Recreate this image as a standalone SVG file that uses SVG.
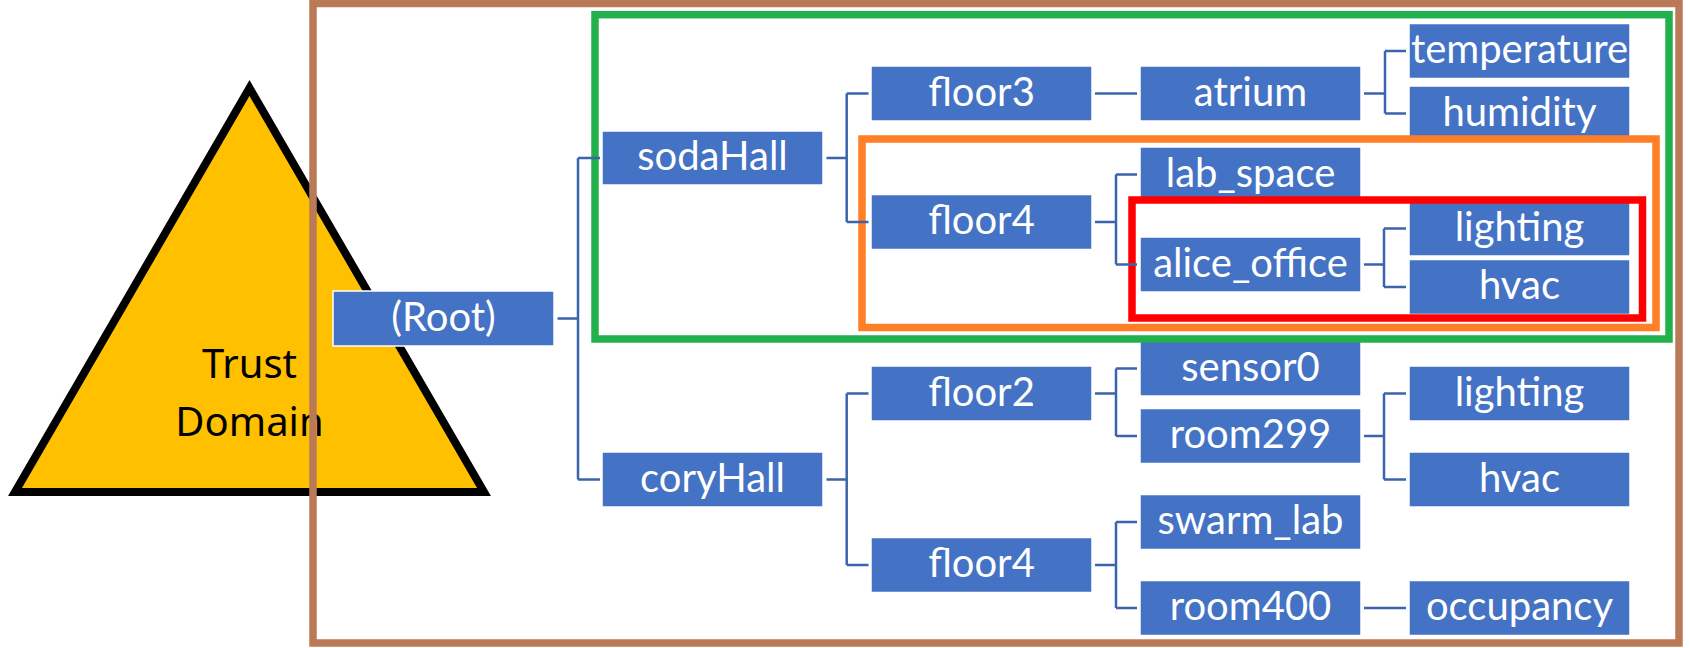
<svg xmlns="http://www.w3.org/2000/svg" width="1690" height="648" viewBox="0 0 1690 648">
  <style>
    .node rect { fill: #4472C4; stroke: #FFFFFF; stroke-width: 1.5; }
    .node text { fill: #FFFFFF; font-family: Lato, "Liberation Sans", sans-serif; font-size: 40px; text-anchor: middle; }
    .zone { fill: none; stroke-width: 7.5; }
    #connectors path { fill: none; stroke: #3B64AD; stroke-width: 2.5; }
  </style>

  <rect x="0" y="0" width="1690" height="648" fill="#FFFFFF"/>

  <!-- trust domain triangle -->
  <g id="trust-domain">
    <polygon points="249.5,88 15,492 484,492" fill="#FFC000" stroke="#000000" stroke-width="8" stroke-linejoin="miter"/>
    <text x="249.5" y="378" font-family="'Noto Sans', 'Open Sans', sans-serif" font-size="40" text-anchor="middle" fill="#000000">Trust</text>
    <text x="249.5" y="436" font-family="'Noto Sans', 'Open Sans', sans-serif" font-size="40" text-anchor="middle" fill="#000000">Domain</text>
  </g>

  <!-- outer namespace frame -->
  <rect class="zone" x="313" y="3.5" width="1366" height="639.5" stroke="#BA7A57"/>

  <!-- tree nodes -->
  <g id="n-root" class="node"><rect x="333" y="291" width="221" height="55"/><text x="443.5" y="330.5">(Root)</text></g>
  <g id="n-sodahall" class="node"><rect x="602" y="131" width="221" height="54"/><text x="712.5" y="170">sodaHall</text></g>
  <g id="n-coryhall" class="node"><rect x="602" y="452" width="221" height="55"/><text x="712.5" y="491.5">coryHall</text></g>
  <g id="n-soda-floor3" class="node"><rect x="871" y="66" width="221" height="55"/><text x="981.5" y="105.5">floor3</text></g>
  <g id="n-soda-floor4" class="node"><rect x="871" y="194.5" width="221" height="55"/><text x="981.5" y="234">floor4</text></g>
  <g id="n-atrium" class="node"><rect x="1140" y="66" width="221" height="55"/><text x="1250.5" y="105.5">atrium</text></g>
  <g id="n-lab-space" class="node"><rect x="1140" y="147" width="221" height="55"/><text x="1250.5" y="186.5">lab_space</text></g>
  <g id="n-alice-office" class="node"><rect x="1140" y="237" width="221" height="55"/><text x="1250.5" y="276.5">alice_office</text></g>
  <g id="n-temperature" class="node"><rect x="1409" y="23.5" width="221" height="55"/><text x="1519.5" y="63">temperature</text></g>
  <g id="n-humidity" class="node"><rect x="1409" y="86" width="221" height="55"/><text x="1519.5" y="125.5">humidity</text></g>
  <g id="n-alice-lighting" class="node"><rect x="1409" y="201" width="221" height="55"/><text x="1519.5" y="240.5">lighting</text></g>
  <g id="n-alice-hvac" class="node"><rect x="1409" y="259.5" width="221" height="55"/><text x="1519.5" y="299">hvac</text></g>
  <g id="n-cory-floor2" class="node"><rect x="871" y="366" width="221" height="55"/><text x="981.5" y="405.5">floor2</text></g>
  <g id="n-cory-floor4" class="node"><rect x="871" y="537.5" width="221" height="55"/><text x="981.5" y="577">floor4</text></g>
  <g id="n-sensor0" class="node"><rect x="1140" y="341" width="221" height="55"/><text x="1250.5" y="380.5">sensor0</text></g>
  <g id="n-room299" class="node"><rect x="1140" y="408.5" width="221" height="55"/><text x="1250.5" y="448">room299</text></g>
  <g id="n-swarm-lab" class="node"><rect x="1140" y="494.5" width="221" height="55"/><text x="1250.5" y="534">swarm_lab</text></g>
  <g id="n-room400" class="node"><rect x="1140" y="580.5" width="221" height="55"/><text x="1250.5" y="620">room400</text></g>
  <g id="n-room299-lighting" class="node"><rect x="1409" y="366" width="221" height="55"/><text x="1519.5" y="405.5">lighting</text></g>
  <g id="n-room299-hvac" class="node"><rect x="1409" y="452" width="221" height="55"/><text x="1519.5" y="491.5">hvac</text></g>
  <g id="n-occupancy" class="node"><rect x="1409" y="580.5" width="221" height="55"/><text x="1519.5" y="620">occupancy</text></g>

  <!-- permission scopes -->
  <rect class="zone" x="595" y="14.7" width="1074" height="324.3" stroke="#22B14C"/>
  <rect class="zone" x="862" y="139" width="794" height="188.5" stroke="#FF7F27"/>
  <rect class="zone" x="1132" y="200" width="510.5" height="118" stroke="#FF0000"/>

  <!-- tree edges -->
  <g id="connectors">
    <path d="M557.5,318.5 H578 M578,158 V479.5 M578,158 H600 M578,479.5 H600"/>
    <path d="M826.5,158 H846.7 M846.7,93.5 V222 M846.7,93.5 H868.5 M846.7,222 H868.5"/>
    <path d="M826.5,479.5 H846.7 M846.7,393.5 V565 M846.7,393.5 H868.5 M846.7,565 H868.5"/>
    <path d="M1095,93.5 H1137"/>
    <path d="M1095,222 H1116 M1116,174.5 V264.5 M1116,174.5 H1137 M1116,264.5 H1137"/>
    <path d="M1095,393.5 H1116 M1116,368.5 V436 M1116,368.5 H1137 M1116,436 H1137"/>
    <path d="M1095,565 H1116 M1116,522 V608 M1116,522 H1137 M1116,608 H1137"/>
    <path d="M1364,93.5 H1385 M1385,51 V113.5 M1385,51 H1406 M1385,113.5 H1406"/>
    <path d="M1364,264.5 H1384 M1384,228.5 V287 M1384,228.5 H1406 M1384,287 H1406"/>
    <path d="M1364,436 H1384 M1384,393.5 V479.5 M1384,393.5 H1406 M1384,479.5 H1406"/>
    <path d="M1364,608 H1406"/>
  </g>
</svg>
